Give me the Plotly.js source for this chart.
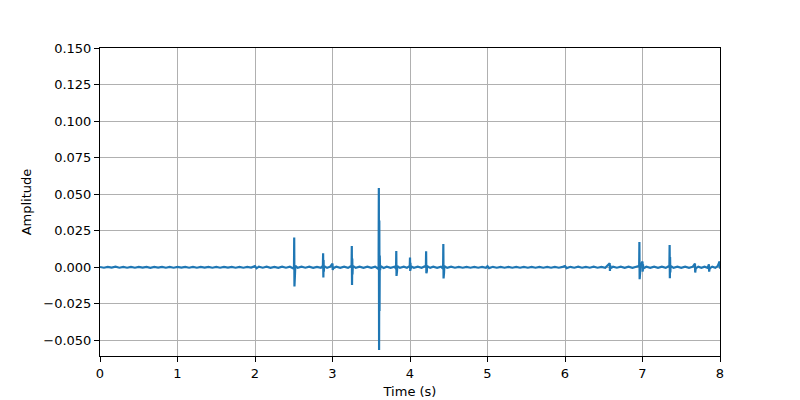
<!DOCTYPE html>
<html>
<head>
<meta charset="utf-8">
<script src="https://cdn.plot.ly/plotly-3.0.1.min.js"></script>
<style>html,body{margin:0;padding:0;background:#fff;}#chart{width:800px;height:400px;}</style>
</head>
<body>
<div id="chart"></div>
<script>
// Time (s) samples
var timeSec = [
0.00,0.05,0.10,0.15,0.20,0.25,0.30,0.35,0.40,0.45,0.50,0.55,0.60,0.65,0.70,0.75,0.80,0.85,0.90,0.95,
1.00,1.05,1.10,1.15,1.20,1.25,1.30,1.35,1.40,1.45,1.50,1.55,1.60,1.65,1.70,1.75,1.80,1.85,1.90,1.95,
2.00,2.02,2.05,2.10,2.15,2.20,2.25,2.30,2.35,2.40,2.45,
2.503,2.506,2.509,2.512,2.515,2.520,
2.55,2.60,2.65,2.70,2.75,2.80,2.85,
2.876,2.879,2.882,2.885,2.888,2.892,
2.93,2.97,3.000,3.003,3.006,3.010,3.05,3.10,3.15,3.20,
3.246,3.249,3.252,3.255,3.258,3.262,
3.30,3.35,3.40,3.45,3.50,3.55,
3.595,3.598,3.601,3.604,3.607,3.610,3.614,
3.62,3.66,3.70,3.75,3.80,
3.820,3.823,3.826,3.829,3.832,3.836,
3.87,3.92,3.96,
3.997,4.000,4.003,4.006,4.009,4.013,
4.05,4.10,4.15,
4.205,4.208,4.211,4.214,4.217,4.221,
4.26,4.30,4.35,4.40,
4.427,4.430,4.433,4.436,4.439,4.443,
4.48,4.53,4.58,4.63,4.68,4.73,4.78,4.83,4.88,4.93,4.98,
5.00,5.02,5.07,5.12,5.17,5.22,5.27,5.32,5.37,5.42,5.47,5.52,5.57,5.62,5.67,5.72,5.77,5.82,5.87,5.92,5.97,
6.00,6.02,6.07,6.12,6.17,6.22,6.27,6.32,6.37,6.42,6.47,6.52,
6.577,6.580,6.583,6.587,
6.62,6.67,6.72,6.77,6.82,6.87,6.92,
6.957,6.960,6.963,6.966,6.969,6.973,
7.000,7.003,7.006,7.010,
7.05,7.10,7.15,7.20,7.25,7.30,
7.347,7.350,7.353,7.356,7.359,7.363,
7.40,7.45,7.50,7.55,7.60,7.65,
7.677,7.680,7.683,7.687,
7.72,7.76,7.80,7.84,
7.857,7.860,7.863,7.867,
7.90,7.94,7.97,7.995,8.00
];
// Amplitude values
var amplitude = [
0.0002,-0.0003,0.0003,-0.0002,0.0004,-0.0003,0.0002,-0.0003,0.0002,-0.0003,0.0003,-0.0002,0.0003,-0.0004,0.0002,-0.0002,0.0003,-0.0003,0.0002,-0.0003,
0.0002,-0.0002,0.0003,-0.0003,0.0002,-0.0003,0.0002,-0.0002,0.0003,-0.0003,0.0002,-0.0003,0.0002,-0.0002,0.0003,-0.0003,0.0002,-0.0003,0.0002,-0.0002,
0.0008,-0.0007,0.0004,-0.0003,0.0004,-0.0004,0.0003,-0.0004,0.0004,-0.0003,0.0004,
-0.0010,0.0203,-0.0132,0.0120,-0.0060,0.0010,
-0.0004,0.0004,-0.0003,0.0004,-0.0004,0.0003,-0.0004,
0.0010,0.0095,-0.0070,0.0050,-0.0030,0.0008,
-0.0004,0.0004,0.0025,-0.0018,0.0015,-0.0006,0.0004,-0.0004,0.0004,-0.0004,
0.0010,0.0145,-0.0121,0.0060,-0.0050,0.0010,
-0.0004,0.0004,-0.0004,0.0004,-0.0004,0.0004,
-0.0012,0.0543,-0.0566,0.0320,-0.0300,0.0080,-0.0020,
0.0008,-0.0005,0.0004,-0.0004,0.0004,
-0.0010,0.0111,-0.0059,0.0050,-0.0030,0.0008,
-0.0004,0.0004,-0.0004,
0.0010,0.0066,-0.0025,0.0030,-0.0015,0.0006,
-0.0004,0.0004,-0.0004,
0.0010,0.0109,-0.0041,0.0040,-0.0030,0.0008,
-0.0004,0.0004,-0.0004,0.0004,
-0.0010,0.0159,-0.0077,0.0080,-0.0040,0.0008,
-0.0004,0.0004,-0.0003,0.0003,-0.0003,0.0003,-0.0003,0.0003,-0.0003,0.0003,-0.0003,
0.0008,-0.0006,0.0003,-0.0003,0.0003,-0.0003,0.0003,-0.0003,0.0003,-0.0003,0.0003,-0.0003,0.0003,-0.0003,0.0003,-0.0003,0.0003,-0.0003,0.0003,-0.0003,0.0003,
0.0008,-0.0006,0.0003,-0.0003,0.0004,-0.0003,0.0003,-0.0003,0.0004,-0.0003,0.0003,-0.0004,
0.0027,-0.0025,0.0015,-0.0006,
0.0004,-0.0003,0.0004,-0.0004,0.0004,-0.0004,0.0004,
0.0010,0.0173,-0.0082,0.0080,-0.0040,0.0010,
0.0039,-0.0030,0.0020,-0.0008,
0.0004,-0.0004,0.0004,-0.0004,0.0004,-0.0004,
0.0010,0.0152,-0.0075,0.0070,-0.0035,0.0009,
-0.0004,0.0004,-0.0004,0.0004,-0.0004,0.0004,
0.0025,-0.0036,0.0015,-0.0008,
0.0004,-0.0004,0.0004,-0.0004,
0.0020,-0.0030,0.0012,-0.0008,
0.0004,-0.0004,0.0008,0.0040,-0.0010
];
var xTicks = [0,1,2,3,4,5,6,7,8];
var yTicks = [-0.05,-0.025,0,0.025,0.05,0.075,0.1,0.125,0.15];

var font = {family: 'DejaVu Sans, sans-serif', size: 13, color: '#000'};
var trace = {
  x: timeSec, y: amplitude, type: 'scatter', mode: 'lines',
  line: {color: '#1f77b4', width: 2.2}, hoverinfo: 'skip'
};
var axisCommon = {
  showline: true, linecolor: '#000', linewidth: 1, mirror: true,
  ticks: 'outside', ticklen: 5, tickwidth: 1, tickcolor: '#000',
  showgrid: true, gridcolor: '#b0b0b0', gridwidth: 1, zeroline: false,
  tickfont: font, automargin: false
};
var layout = {
  width: 800, height: 400,
  margin: {l: 100, r: 80, t: 48, b: 44, pad: 0},
  paper_bgcolor: '#fff', plot_bgcolor: '#fff',
  showlegend: false, font: font,
  xaxis: Object.assign({}, axisCommon, {
    range: [0, 8], tickmode: 'array', tickvals: xTicks,
    ticktext: xTicks.map(function(v){return String(v);}),
    title: {text: 'Time (s)', font: font, standoff: 7}
  }),
  yaxis: Object.assign({}, axisCommon, {
    range: [-0.0607, 0.15], tickmode: 'array', tickvals: yTicks,
    ticktext: yTicks.map(function(v){return (v < 0 ? '\u2212' : '') + Math.abs(v).toFixed(3);}),
    title: {text: 'Amplitude', font: font, standoff: 8}
  })
};
Plotly.newPlot('chart', [trace], layout, {displayModeBar: false, staticPlot: true});
</script>
</body>
</html>
